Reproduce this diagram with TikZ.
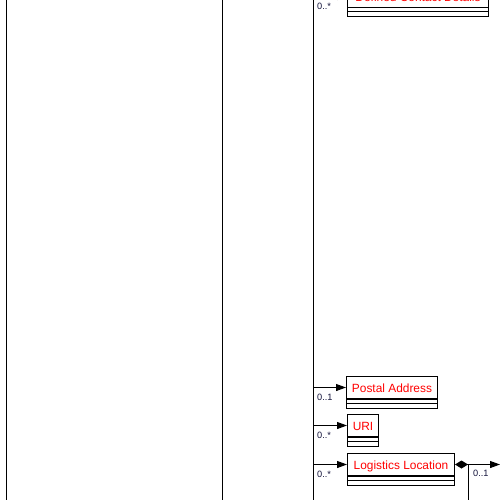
\documentclass[tikz,border=0pt]{standalone}
\usepackage{fontspec}
\setmainfont{Liberation Sans}
\usetikzlibrary{arrows.meta}
\definecolor{classred}{RGB}{255,0,0}
\definecolor{multink}{RGB}{20,20,60}
\tikzset{
  edge/.style={line width=1pt, draw=black},
  classtitle/.style={draw=black, line width=1pt, anchor=north west, inner sep=0pt,
    minimum height=22pt, text height=11.5pt, text depth=1.5pt, text=classred,
    font=\fontsize{11.9}{13}\selectfont},
  assoc/.style={edge, -{Triangle[length=10pt,width=7pt]}},
  aggr/.style={edge, {Diamond[length=13pt,width=8pt]}-{Triangle[length=10pt,width=7pt]}},
  mult/.style={anchor=west, inner sep=0pt, text=multink, font=\fontsize{9.2}{10}\selectfont},
}
% a class box: title compartment plus two empty compartments underneath
\newcommand{\umlclass}[5]{%
  \node[classtitle, minimum width=#4pt] (#1) at (#2,#3) {#5};
  \draw[edge] (#1.south west) rectangle ++(#4,9);
  \draw[edge] ([yshift=-4pt]#1.south west) -- ++(#4,0);
}
\begin{document}
\begin{tikzpicture}[x=1pt,y=-1pt]
\useasboundingbox (0,0) rectangle (500,500);
\clip (0,0) rectangle (500,500);

% swimlane / trunk lines
\coordinate (laneA top) at (6,-20);   \coordinate (laneA bot) at (6,520);
\coordinate (laneB top) at (222,-20); \coordinate (laneB bot) at (222,520);
\coordinate (trunk top) at (313,-20); \coordinate (trunk bot) at (313,520);
\draw[edge] (laneA top) -- (laneA bot);
\draw[edge] (laneB top) -- (laneB bot);
\draw[edge] (trunk top) -- (trunk bot);

% classes
\umlclass{dcd}{347}{-15}{141}{Defined Contact Details}
\umlclass{pa}{346}{376}{91}{Postal Address}
\umlclass{uri}{347}{414}{31}{URI}
\umlclass{ll}{347}{453}{107}{Logistics Location}

% associations from the trunk
\draw[assoc] (trunk top |- dcd.west) -- (dcd.west);
\draw[assoc] (trunk top |- pa.west) -- (pa.west);
\draw[assoc] (trunk top |- uri.west) -- (uri.west);
\draw[assoc] (trunk top |- ll.west) -- (ll.west);

\node[mult] (m1) at (317,6) {0..*};
\node[mult] (m2) at (317,397) {0..1};
\node[mult] (m3) at (317,435) {0..*};
\node[mult] (m4) at (317,474) {0..*};

% composition leaving Logistics Location
\coordinate (llout) at (500,464);
\coordinate (llbranch bot) at (468,520);
\draw[aggr] (ll.east) -- (ll.east -| llout);
\draw[edge] (ll.east -| llbranch bot) -- (llbranch bot);
\node[mult] (m5) at (473,473) {0..1};
\end{tikzpicture}
\end{document}
